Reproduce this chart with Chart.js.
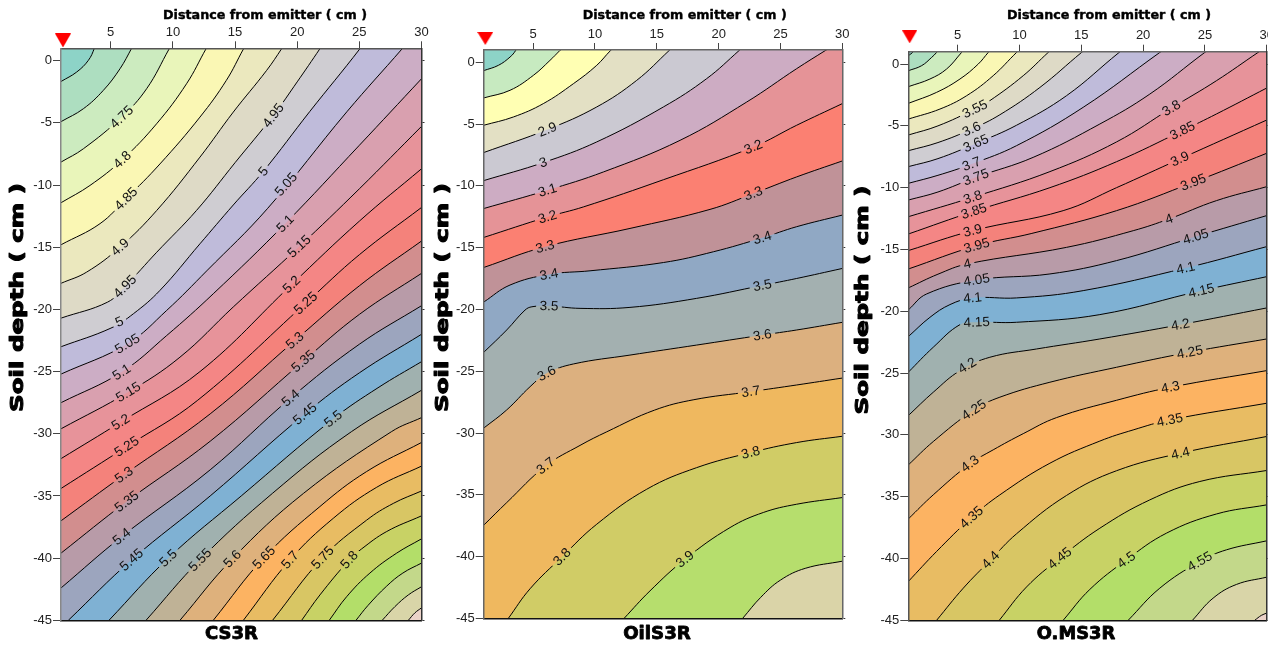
<!DOCTYPE html>
<html><head><meta charset="utf-8">
<style>html,body{margin:0;padding:0;background:#fff;overflow:hidden;width:1268px;height:651px}
canvas{position:absolute;top:0}</style>
<script src="https://cdn.jsdelivr.net/npm/chart.js@4"></script></head><body>
<canvas id="c1" style="left:0" width="440" height="651"></canvas>
<canvas id="c2" style="left:425px" width="436" height="651"></canvas>
<canvas id="c3" style="left:850px" width="435" height="651"></canvas>
<script>
const xTickValues=[5,10,15,20,25,30];
const yTickValues=[0,-5,-10,-15,-20,-25,-30,-35,-40,-45];
const xRange=[1,30];
const yRange=[-45,1];

const cs3rLevels=['4.65','4.7','4.75','4.8','4.85','4.9','4.95','5','5.05','5.1','5.15','5.2','5.25','5.3','5.35','5.4','5.45','5.5','5.55','5.6','5.65','5.7','5.75','5.8','5.85','5.9','5.95','6'];
const cs3rContours=[
[[1,-1.67],[2.26,-.91],[3.2,.03],[3.68,1],[3.95,2]],
[[1,-4.9],[2.8,-3.86],[4.4,-2.39],[5.75,-.64],[6.68,1],[7.2,2]],
[[1,-8.15],[2.8,-7.08],[5.88,-4.53],[7.89,-2.25],[9.71,.97],[10.3,2]],
[[1,-11.42],[3.33,-10.03],[5.93,-7.96],[8.69,-5.07],[11.1,-1.85],[12.69,1],[13.3,2]],
[[1,-14.8],[4.14,-13.1],[6.23,-11.1],[8.96,-8.3],[12.18,-4.53],[14.3,-1.58],[15.69,.97],[16.3,2]],
[[1,-17.9],[3.06,-17],[5.75,-14.99],[8.7,-12.04],[12.18,-7.75],[14.86,-4.13],[17.54,-.78],[18.75,.97],[19.4,2]],
[[1,-20.7],[4.75,-19.41],[6.15,-18.15],[8.7,-15.4],[11.9,-12.04],[15,-8.2],[18.08,-4.4],[20,-1.7],[21.83,.97],[22.5,2]],
[[1,-23],[5.02,-21.5],[6.82,-20.35],[8.96,-18.47],[12.18,-14.72],[14.86,-11.6],[17.27,-8.9],[21,-4.1],[25.05,.97],[25.7,2]],
[[1,-25.2],[6.34,-22.76],[9.5,-20.08],[12.72,-16.9],[17.6,-11.9],[24,-4.1],[28.45,.97],[29.3,2]],
[[1,-27.5],[5.88,-25.04],[9.5,-22.1],[13.25,-18.74],[19.04,-13.1],[25,-6.8],[30,-1.45]],
[[1,-29.6],[6.42,-26.65],[10.57,-23.84],[14.86,-19.8],[20.17,-14.94],[25,-10.3],[30,-5.28]],
[[1,-32],[5.8,-29.06],[12.18,-25],[19.55,-18],[25,-12.9],[30,-8.69]],
[[1,-34.4],[6.28,-31.03],[12,-27.3],[20.68,-19.5],[25,-15.6],[30,-11.8]],
[[1,-37],[6.07,-33.3],[13,-28.4],[19.82,-22.5],[25,-18.1],[30,-14.5]],
[[1,-39.6],[6.28,-35.45],[13,-30.6],[20.49,-24.16],[25,-20.4],[30,-17.1]],
[[1,-42.4],[5.88,-38.27],[13,-32.9],[19.47,-27.13],[25,-22.8],[30,-19.7]],
[[1.59,-45],[6.68,-40.14],[13,-35],[20.62,-28.4],[25,-25.1],[30,-22]],
[[4.86,-45],[9.63,-40],[15.5,-35],[22.9,-28.8],[26.5,-26.3],[30,-24.2]],
[[7.84,-45],[12.18,-40.14],[18,-34.8],[24.38,-29.82],[30,-26.5]],
[[10.57,-45],[14.78,-40.06],[20.5,-34.8],[27.6,-29.82],[30,-28.7]],
[[13.25,-45],[17.33,-39.96],[21.83,-35.85],[25.58,-33.04],[30,-30.7]],
[[15.67,-45],[19.42,-40.14],[22.9,-36.8],[26.4,-34.3],[30,-32.6]],
[[18.02,-45],[22.05,-39.96],[25.58,-36.95],[27.73,-35.6],[30,-34.6]],
[[20.36,-45],[21.83,-42.96],[24.19,-40.14],[25.18,-39.26],[27.2,-37.86],[30,-36.6]],
[[22.58,-45],[23.98,-43.1],[25.85,-41.2],[28,-39.6],[30,-38.45]],
[[24.73,-45],[25.7,-43.8],[27.2,-42.25],[28.5,-41.2],[30,-40.4]],
[[26.84,-45],[27.86,-43.9],[28.94,-42.96],[30,-42.3]],
[[28.94,-45],[29.47,-44.4],[30,-44]]
];
const cs3rLabels=[['4.75',5.88,-4.53],['4.95',18.08,-4.4],['4.8',5.93,-7.96],['5',17.27,-8.9],['5.05',19.1,-9.95],['4.85',6.23,-11.1],['5.1',19.04,-13.1],['5.15',20.17,-14.94],['4.9',5.75,-14.99],['4.95',6.15,-18.15],['5.2',19.55,-18],['5.25',20.68,-19.5],['5',5.69,-21],['5.05',6.34,-22.76],['5.3',19.82,-22.5],['5.35',20.49,-24.16],['5.1',5.88,-25.04],['5.15',6.42,-26.65],['5.4',19.47,-27.13],['5.45',20.62,-28.4],['5.5',22.9,-28.8],['5.2',5.8,-29.06],['5.25',6.28,-31.03],['5.3',6.07,-33.3],['5.35',6.28,-35.45],['5.4',5.88,-38.27],['5.45',6.68,-40.14],['5.5',9.63,-40],['5.55',12.18,-40.14],['5.6',14.78,-40.06],['5.65',17.33,-39.96],['5.7',19.42,-40.14],['5.75',22.05,-39.96],['5.8',24.19,-40.14]];

const oilLevels=['2.6','2.7','2.8','2.9','3','3.1','3.2','3.3','3.4','3.5','3.6','3.7','3.8','3.9','4'];
const oilContours=[
[[1,-.67],[2.19,-.24],[3.13,.43],[3.59,.97],[4,1.8]],
[[1,-2.88],[3.13,-2.26],[5.02,-1.05],[6.36,.16],[7.17,.97],[8,1.8]],
[[1,-5.09],[3.4,-4.42],[5.82,-3.34],[8.25,-1.73],[10.14,-.24],[11.27,.97],[12.2,1.8]],
[[1,-7.3],[6.15,-5.44],[10.14,-3.61],[13.37,-1.46],[16.01,.97],[17,1.9]],
[[1,-9.57],[5.82,-8.11],[10.14,-6.44],[15.53,-3.61],[19.03,-1.32],[21.67,.97],[22.8,2]],
[[1,-11.83],[6.15,-10.35],[10.68,-8.87],[16.88,-6.31],[22.27,-3.21],[26.31,-.51],[28.65,.97],[30,1.8]],
[[1,-14.17],[6.15,-12.51],[9.06,-11.7],[15.53,-9.5],[22.8,-6.85],[26.31,-5.09],[30,-3.34]],
[[1,-16.6],[5.96,-14.92],[12.83,-13.44],[19.3,-11.9],[22.8,-10.62],[26.31,-9.27],[30,-7.98]],
[[1,-19.4],[3.13,-18.02],[6.28,-17.16],[9.6,-16.87],[15.53,-16.2],[19.57,-15.33],[23.53,-14.2],[26.31,-13.3],[30,-12.36]],
[[1,-23.47],[2.86,-21.66],[4.34,-20.05],[4.9,-19.78],[6.28,-19.72],[8.79,-19.91],[12.83,-19.83],[18.22,-19.1],[23.53,-18.05],[26.31,-17.49],[30,-16.68]],
[[1,-29.6],[2.86,-28.13],[4.75,-26.25],[6.09,-25.17],[8.25,-24.41],[12.83,-23.69],[18.22,-22.88],[23.53,-22.07],[26.31,-21.66],[30,-21.04]],
[[1,-37.46],[2.86,-35.63],[6.01,-32.66],[8.79,-31],[10.95,-29.9],[14.8,-28.15],[18,-27.3],[22.59,-26.65],[26.31,-26.11],[30,-25.55]],
[[2.99,-45],[4.75,-42.6],[7.33,-40.02],[10.14,-37.38],[14.18,-34.55],[18.22,-32.8],[22.59,-31.58],[26.31,-30.77],[30,-30.26]],
[[12.35,-45],[14.45,-42.77],[17.28,-40.21],[20.92,-37.65],[23.61,-36.43],[26.31,-35.76],[30,-35.22]],
[[21.94,-45],[23.4,-43.3],[25,-41.9],[27,-40.95],[30,-40.37]]
];
const oilLabels=[['2.9',6.15,-5.44],['3',5.82,-8.11],['3.1',6.15,-10.35],['3.2',6.15,-12.51],['3.2',22.8,-6.85],['3.3',22.8,-10.62],['3.3',5.96,-14.92],['3.4',6.28,-17.16],['3.4',23.53,-14.2],['3.5',6.28,-19.72],['3.5',23.53,-18.05],['3.6',23.53,-22.07],['3.6',6.09,-25.17],['3.7',22.59,-26.65],['3.7',6.01,-32.66],['3.8',22.59,-31.58],['3.8',7.33,-40.02],['3.9',17.28,-40.21]];

const omsLevels=['3.3','3.35','3.4','3.45','3.5','3.55','3.6','3.65','3.7','3.75','3.8','3.85','3.9','3.95','4','4.05','4.1','4.15','4.2','4.25','4.3','4.35','4.4','4.45','4.5','4.55','4.6','4.65'];
const omsContours=[
[[1,.67],[1.4,1],[1.7,1.5]],
[[1,-.54],[2.08,-.13],[2.89,.54],[3.29,.94],[3.8,1.6]],
[[1,-1.83],[2.75,-1.21],[4.1,-.4],[5.31,.94],[5.9,1.6]],
[[1,-3.18],[3.29,-2.29],[5.18,-1.21],[6.66,0],[7.47,.94],[8.1,1.6]],
[[1,-4.45],[3.56,-3.64],[5.72,-2.56],[7.87,-.94],[9.76,.94],[10.5,1.6]],
[[1,-5.74],[3.4,-5],[6.39,-3.64],[7.6,-2.96],[10.3,-.94],[12.32,.94],[13.1,1.6]],
[[1,-7.01],[3.4,-6.35],[6.12,-5.26],[8.41,-4.1],[11.65,-1.89],[15.02,.94],[15.9,1.6]],
[[1,-8.3],[3.4,-7.65],[6.47,-6.42],[9.76,-4.95],[13.8,-2.56],[18.06,.94],[19,1.6]],
[[1,-9.65],[3.4,-9],[6.12,-8.09],[9.76,-6.6],[15.15,-3.5],[21.35,.94],[22.3,1.6]],
[[1,-11],[3.4,-10.35],[6.47,-9.16],[11.1,-7.55],[16.5,-4.85],[20.54,-2.43],[24.99,.94],[26,1.6]],
[[1,-12.35],[6.2,-10.78],[12.46,-8.7],[17.85,-6.3],[22.29,-3.56],[25.93,-1.35],[29.3,.94],[30.3,1.6]],
[[1,-13.75],[6.31,-11.91],[12.46,-10],[17.85,-7.9],[23.18,-5.39],[25.93,-4.04],[30,-1.94]],
[[1,-15.09],[6.2,-13.48],[13.53,-11.86],[17.85,-10],[22.97,-7.68],[30,-4.53]],
[[1,-16.58],[6.53,-14.69],[11,-13.7],[17.85,-11.86],[24.05,-9.57],[30,-7.22]],
[[1,-18.11],[3.4,-17],[5.77,-16.17],[13.8,-14.83],[19.2,-13.48],[22.1,-12.53],[25.93,-11.05],[30,-9.92]],
[[1,-19.89],[2.48,-18.6],[6.53,-17.47],[12.46,-16.98],[17.85,-15.9],[24.26,-13.96],[30,-12.26]],
[[1,-22.05],[2.75,-20.49],[4.37,-19.46],[6.2,-18.92],[9.76,-18.92],[15.15,-18.33],[23.45,-16.5],[30,-14.77]],
[[1,-24.93],[3.02,-22.91],[5.18,-21.08],[6.53,-20.89],[9.76,-20.89],[16.5,-20.27],[24.72,-18.33],[30,-17.2]],
[[1,-28.44],[3.02,-26.55],[5.18,-24.8],[7.6,-23.72],[11.38,-23.05],[16.5,-22.24],[23.02,-21.08],[30,-19.73]],
[[1,-32.43],[3.02,-30.54],[6.31,-27.98],[8.41,-26.95],[12.46,-25.74],[17.85,-24.53],[23.78,-23.31],[30,-22.24]],
[[1,-36.8],[3.02,-34.85],[5.99,-32.34],[7.87,-31.21],[10.3,-29.9],[13,-28.6],[17.85,-27.2],[22.21,-26.15],[30,-24.8]],
[[1,-41.86],[3.29,-39.43],[6.12,-36.68],[8.41,-34.85],[12.46,-32.29],[16.5,-30.5],[19.19,-29.6],[22.16,-28.79],[30,-27.44]],
[[3.29,-45],[5.45,-42.4],[7.66,-40.11],[9.76,-38],[13.8,-34.9],[17.85,-32.9],[23.02,-31.48],[30,-30.13]],
[[8.36,-45],[10.57,-42.3],[13.26,-39.97],[16.5,-37.55],[20.54,-35.26],[24.59,-33.77],[30,-32.88]],
[[13.53,-45],[15.69,-42.5],[18.65,-40.11],[21.89,-37.95],[25.93,-36.4],[30,-35.66]],
[[18.79,-45],[21.35,-42.4],[24.59,-40.24],[26.74,-39.3],[30,-38.57]],
[[23.99,-45],[25.66,-43.21],[27.55,-42.1],[30,-41.51]],
[[29.03,-45],[29.57,-44.6],[30,-44.42]]
];
const omsLabels=[['3.55',6.39,-3.64],['3.6',6.12,-5.26],['3.65',6.47,-6.42],['3.7',6.12,-8.09],['3.75',6.47,-9.16],['3.8',6.2,-10.78],['3.85',6.31,-11.91],['3.9',6.2,-13.48],['3.95',6.53,-14.69],['4',5.77,-16.17],['4.05',6.53,-17.47],['4.1',6.2,-18.92],['4.15',6.53,-20.89],['4.2',5.77,-24.39],['4.25',6.31,-27.98],['4.3',5.99,-32.34],['4.35',6.12,-36.68],['4.4',7.66,-40.11],['4.45',13.26,-39.97],['4.5',18.65,-40.11],['4.55',24.59,-40.24],['3.8',22.29,-3.56],['3.85',23.18,-5.39],['3.9',22.97,-7.68],['3.95',24.05,-9.57],['4',22.1,-12.53],['4.05',24.26,-13.96],['4.1',23.45,-16.5],['4.15',24.72,-18.33],['4.2',23.02,-21.08],['4.25',23.78,-23.31],['4.3',22.21,-26.15],['4.35',22.16,-28.79],['4.4',23.02,-31.48]];

const emitterPoints=[[1.16,1.63],[1.13,1.94],[1.11,2.2]];

const fineBandColors=['#8DD3C7','#ADDEC0','#CCEBBF','#E9F5BA','#FAF7B4','#EBE8BE','#DEDAC6','#CFCDD2','#BFBBDA','#CCADC5','#D9A0AF','#E7939A','#F48685','#F4827B','#D28E8E','#B89BA8','#9CA5BE','#7FB1D3','#A0B1AF','#BFB296','#DEB17C','#FCB362','#E8BC63','#D8C664','#C8D265','#B3DE69','#C3D88A','#D9D5A8','#EBD2C8'];
const oilBandColors=['#8DD3C7','#C7EAC0','#FFFFB3','#E3E0C4','#CBC9D2','#CDACC3','#E59397','#FB8072','#C09298','#90A8C4','#A3B0B0','#DCB07F','#EFB85F','#D0CC66','#B6DE6D','#DAD4A8'];

function triangleSprite(w,h){
  const c=document.createElement('canvas');c.width=w;c.height=h;
  const g=c.getContext('2d');g.fillStyle='#FF0000';g.beginPath();g.moveTo(0,0);g.lineTo(w,0);g.lineTo(w/2,h);g.closePath();g.fill();
  return c;
}
const toPts=a=>a.map(p=>({x:p[0],y:p[1]}));

function contourPlugin(p){
  const labelGeom=(chart,lab)=>{
    const i=p.levels.indexOf(lab[0]);const pts=p.contours[i];
    const sx=chart.scales.x,sy=chart.scales.y;
    let k=0,best=1e9;
    pts.forEach((q,j)=>{const d=Math.hypot(q[0]-lab[1],q[1]-lab[2]);if(d<best){best=d;k=j;}});
    const a=pts[Math.max(k-1,0)],b=pts[Math.min(k+1,pts.length-1)];
    const ang=Math.atan2(sy.getPixelForValue(b[1])-sy.getPixelForValue(a[1]),sx.getPixelForValue(b[0])-sx.getPixelForValue(a[0]));
    return {x:sx.getPixelForValue(lab[1]),y:sy.getPixelForValue(lab[2]),ang};
  };
  const labFont='13.5px "Liberation Sans", Arial, sans-serif';
  const fitText=(ctx,text,cx,cy,w,rot,font,thick)=>{
    ctx.save();ctx.font=font;ctx.fillStyle='#000';ctx.strokeStyle='#000';ctx.lineWidth=thick;ctx.lineJoin='round';ctx.textAlign='center';ctx.textBaseline='middle';
    ctx.translate(cx,cy);ctx.rotate(rot);
    ctx.scale(w/ctx.measureText(text).width,1);
    ctx.fillText(text,0,0);ctx.strokeText(text,0,0);ctx.restore();
  };
  return {id:'contourKit'+p.id,
    beforeDatasetDraw(chart,args){
      const ds=chart.data.datasets[args.index];
      if(ds.levelName===undefined)return;
      const labs=p.labels.filter(l=>l[0]===ds.levelName);
      if(!labs.length)return;
      const ctx=chart.ctx;ctx.save();ctx.beginPath();ctx.rect(0,0,chart.width,chart.height);
      ctx.font=labFont;
      labs.forEach(l=>{
        const g=labelGeom(chart,l);const hw=ctx.measureText(l[0]).width/2+3.5,hh=7.5;
        const c=Math.cos(g.ang),s=Math.sin(g.ang);
        ctx.moveTo(g.x-hw*c+hh*s,g.y-hw*s-hh*c);ctx.lineTo(g.x+hw*c+hh*s,g.y+hw*s-hh*c);
        ctx.lineTo(g.x+hw*c-hh*s,g.y+hw*s+hh*c);ctx.lineTo(g.x-hw*c-hh*s,g.y-hw*s+hh*c);ctx.closePath();
      });
      ctx.clip('evenodd');ds._clipped=true;
    },
    afterDatasetDraw(chart,args){
      const ds=chart.data.datasets[args.index];
      if(ds._clipped){chart.ctx.restore();ds._clipped=false;}
    },
    afterDraw(chart){
      const ctx=chart.ctx;
      ctx.save();ctx.font=labFont;ctx.fillStyle='#111';ctx.textAlign='center';ctx.textBaseline='middle';
      p.labels.forEach(l=>{
        const g=labelGeom(chart,l);
        ctx.save();ctx.translate(g.x,g.y);ctx.rotate(g.ang);ctx.fillText(l[0],0,0.5);ctx.restore();
      });
      ctx.restore();
      fitText(ctx,'Distance from emitter ( cm )',p.topCx,p.topCy,204,0,'bold 12.5px "DejaVu Sans"',0.4);
      fitText(ctx,'Soil depth ( cm )',p.sideCx,p.sideCy,229,-Math.PI/2,'bold 17px "DejaVu Sans"',1);
      fitText(ctx,p.name,p.botCx,635,p.botW,0,'bold 17px "DejaVu Sans"',0.8);
    }
  };
}

function buildPanel(p){
  const sets=[];
  const curve={tension:0.4,capBezierPoints:false};
  sets.push({data:toPts([[xRange[0],3],[32,3]]),backgroundColor:p.colors[0],fill:{value:yRange[0]},borderWidth:0,pointRadius:0,showLine:true,order:1000});
  p.contours.forEach((c,i)=>{
    const last=c[c.length-1];
    const pts=last[0]<30?c.concat([[32,last[1]]]):c;
    sets.push(Object.assign({data:toPts(pts),backgroundColor:p.colors[i+1],fill:{value:yRange[0]},borderWidth:0,pointRadius:0,showLine:true,order:999-i},curve));
  });
  p.contours.forEach((c,i)=>{
    sets.push(Object.assign({levelName:p.levels[i],data:toPts(c),borderColor:'#000',borderWidth:1,fill:false,pointRadius:0,showLine:true,order:1},curve));
  });
  sets.push({data:toPts([p.emitter]),pointStyle:triangleSprite(p.triW,p.triH),pointRadius:16,showLine:false,clip:false,order:0});
  const tickFont={family:'"Liberation Sans", Arial, sans-serif',size:13};
  const setTicks=v=>s=>{s.ticks=v.map(t=>({value:t}));};
  new Chart(document.getElementById(p.canvas),{
    type:'scatter',
    data:{datasets:sets},
    options:{responsive:false,animation:false,events:[],
      elements:{line:{capBezierPoints:false}},
      layout:{padding:{left:0,top:0,right:p.padRight,bottom:p.padBottom}},
      plugins:{legend:{display:false},tooltip:{enabled:false},title:{display:false}},
      scales:{
        x:{type:'linear',position:'top',min:xRange[0],max:xRange[1],afterBuildTicks:setTicks(xTickValues),afterFit:s=>{s.height=p.top;},
          border:{color:p.topColor,width:1.5,z:2},
          grid:{drawOnChartArea:false,tickLength:7,tickWidth:1,tickColor:'#444'},
          ticks:{font:tickFont,color:'#222',padding:1,maxRotation:0,autoSkip:false,callback:v=>String(v)}},
        xb:{type:'linear',position:'bottom',min:xRange[0],max:xRange[1],afterBuildTicks:setTicks(xTickValues),afterFit:s=>{s.height=0;},
          border:{color:'#111',width:1.5,z:2},grid:{drawOnChartArea:false,tickLength:0,drawTicks:false},ticks:{display:false}},
        y:{type:'linear',position:'left',min:yRange[0],max:yRange[1],afterBuildTicks:setTicks(yTickValues),afterFit:s=>{s.width=p.left;},
          border:{color:p.leftColor,width:1.5,z:2},
          grid:{drawOnChartArea:false,tickLength:8,tickWidth:1,tickColor:'#444'},
          ticks:{font:tickFont,color:'#222',padding:1,autoSkip:false,callback:v=>String(v)}},
        yr:{type:'linear',position:'right',min:yRange[0],max:yRange[1],afterBuildTicks:setTicks(yTickValues),afterFit:s=>{s.width=3;},
          border:{color:p.rightColor,width:1.5,z:2},grid:{drawOnChartArea:false,tickLength:3,tickWidth:1,tickColor:'#333'},ticks:{display:false}}
      }},
    plugins:[contourPlugin(p)]
  });
}

buildPanel({id:1,canvas:'c1',name:'CS3R',levels:cs3rLevels,contours:cs3rContours,labels:cs3rLabels,colors:fineBandColors,emitter:emitterPoints[0],triW:16,triH:14,
  left:61,top:48.3,padRight:15.5,padBottom:30.7,topColor:'#555',leftColor:'#888',rightColor:'#333',topCx:265,topCy:15.5,sideCx:19,sideCy:297.5,botCx:231.5,botW:53});
buildPanel({id:2,canvas:'c2',name:'OilS3R',levels:oilLevels,contours:oilContours,labels:oilLabels,colors:oilBandColors,emitter:emitterPoints[1],triW:16,triH:13,
  left:58.7,top:50,padRight:15.7,padBottom:32.6,topColor:'#666',leftColor:'#666',rightColor:'#666',topCx:259.7,topCy:15.5,sideCx:19,sideCy:297.5,botCx:232,botW:67.7});
buildPanel({id:3,canvas:'c3',name:'O.MS3R',levels:omsLevels,contours:omsContours,labels:omsLabels,colors:fineBandColors,emitter:emitterPoints[2],triW:15,triH:13,
  left:58.3,top:51.7,padRight:15.3,padBottom:30.7,topColor:'#666',leftColor:'#555',rightColor:'#333',topCx:259,topCy:15.5,sideCx:14,sideCy:300,botCx:226,botW:78.3});
</script></body></html>
